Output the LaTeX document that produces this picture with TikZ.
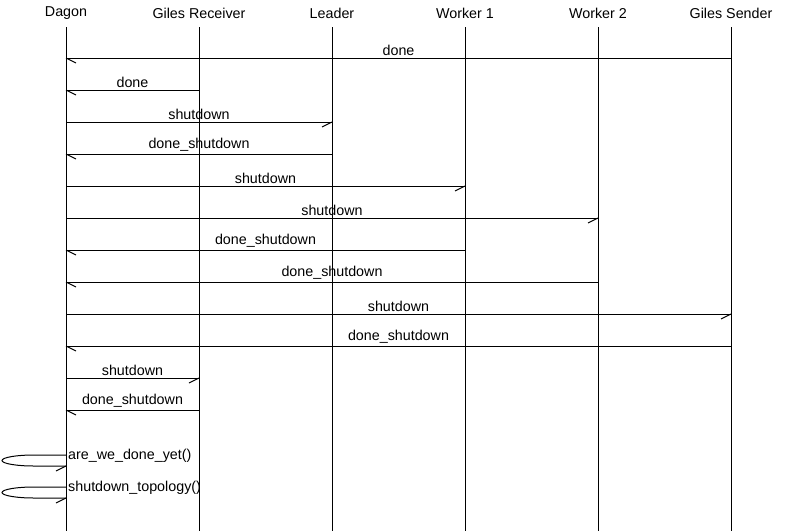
\documentclass[tikz,border=0pt]{standalone}
\usepackage{fontspec}
\setmainfont{Liberation Sans}
\begin{document}
\begin{tikzpicture}[x=1pt,y=-1pt,
  every node/.style={font=\fontsize{14.3}{16}\selectfont, inner sep=0pt},
  life/.style={line width=1pt, black},
  msg/.style={line width=1pt},
  barb/.style={line width=1pt},
  lbl/.style={anchor=south, yshift=2pt},
  slbl/.style={anchor=west, xshift=2pt}]
\useasboundingbox[fill=white] (0,0) rectangle (798,531);
% headers
\node (D) at (66,13) {Dagon};
\node (GR) at (199,13) {Giles Receiver};
\node (L) at (332,13) {Leader};
\node (W1) at (465,13) {Worker 1};
\node (W2) at (598,13) {Worker 2};
\node (GS) at (731,13) {Giles Sender};
% lifelines
\foreach \n in {D,GR,L,W1,W2,GS}{
  \coordinate (\n-top) at (\n|-0,27);
  \coordinate (\n-bot) at (\n|-0,531);
  \draw[life] (\n-top) -- (\n-bot);
}
% messages: from, to, y, label, barb direction
\foreach \f/\t/\y/\l/\d in {
  GS/D/58/done/1,
  GR/D/90/done/1,
  D/L/122/shutdown/-1,
  L/D/154/done\_shutdown/1,
  D/W1/186/shutdown/-1,
  D/W2/218/shutdown/-1,
  W1/D/250/done\_shutdown/1,
  W2/D/282/done\_shutdown/1,
  D/GS/314/shutdown/-1,
  GS/D/346/done\_shutdown/1,
  D/GR/378/shutdown/-1,
  GR/D/410/done\_shutdown/1}{
  \coordinate (a) at (\f|-0,\y);
  \coordinate (b) at (\t|-0,\y);
  \draw[msg] (a) -- node[lbl] {\l} (b);
  \draw[barb] (b) -- ++(10*\d,5);
}
% self loops
\foreach \y/\l in {455/are\_we\_done\_yet(), 487/shutdown\_topology()}{
  \coordinate (s) at (D|-0,\y);
  \coordinate (e) at (D|-0,\y+11);
  \draw[msg] (s) -- ++(-32,0) .. controls +(-18,0) and +(0,-3) .. ++(-32,5.5)
     .. controls +(0,3) and +(-18,0) .. ++(32,5.5) -- (e);
  \draw[barb] (e) -- ++(-10,5);
  \node[slbl] at ([yshift=-1pt]s) {\l};
}
\end{tikzpicture}
\end{document}
